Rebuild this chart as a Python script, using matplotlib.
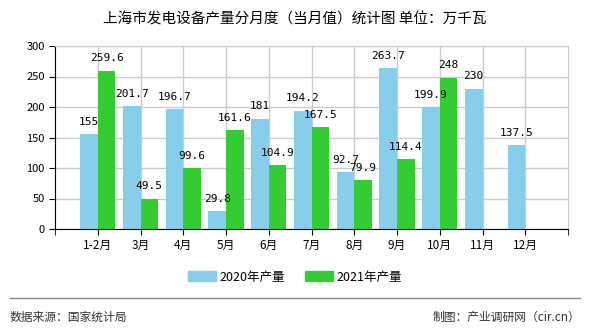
import matplotlib
matplotlib.use("Agg")
import matplotlib.pyplot as plt
import numpy as np

plt.rcParams['font.family'] = ['Noto Sans CJK SC', 'DejaVu Sans']

categories = ['1-2月', '3月', '4月', '5月', '6月', '7月', '8月', '9月', '10月', '11月', '12月']
v2020 = [155, 201.7, 196.7, 29.8, 181, 194.2, 92.7, 263.7, 199.9, 230, 137.5]
v2021 = [259.6, 49.5, 99.6, 161.6, 104.9, 167.5, 79.9, 114.4, 248, None, None]
yticks = [0, 50, 100, 150, 200, 250, 300]

fig = plt.figure(figsize=(5.9, 3.3), dpi=100)
ax = fig.add_axes([55/590, 1-229/330, (568-55)/590, (229-46)/330])

x = np.arange(1, len(categories) + 1)
w = 0.41
c20 = '#87CEEB'
c21 = '#33CC33'
for i, v in enumerate(v2020):
    ax.bar(x[i] - w/2, v, w, color=c20, zorder=2)
    ax.text(x[i] - w/2, v + 12, f'{v:g}', ha='center', va='bottom', fontsize=8,
            family=['DejaVu Sans Mono'], zorder=3)
for i, v in enumerate(v2021):
    if v is None:
        continue
    ax.bar(x[i] + w/2, v, w, color=c21, zorder=2)
    ax.text(x[i] + w/2, v + 12, f'{v:g}', ha='center', va='bottom', fontsize=8,
            family=['DejaVu Sans Mono'], zorder=3)

ax.set_xlim(0, 12)
ax.set_ylim(0, 300)
ax.set_yticks(yticks)
ax.set_xticks(list(x))
ax.set_xticklabels(categories, fontsize=8.5)
ax.set_xticks([0, 12], minor=True)
ax.tick_params(axis='y', labelsize=8, length=4, color='black')
ax.tick_params(axis='x', which='both', length=4, color='black', direction='out')
ax.grid(True, color='#CCCCCC', linewidth=1, zorder=0)
for s in ['top', 'right']:
    ax.spines[s].set_color('#CCCCCC')
ax.spines['left'].set_color('black')
ax.spines['bottom'].set_color('black')

fig.text(0.5, 1-19/330, '上海市发电设备产量分月度（当月值）统计图 单位：万千瓦', ha='center', va='center',
         fontsize=10.5, fontweight='medium')

from matplotlib.patches import Patch
handles = [Patch(color=c20, label='2020年产量'), Patch(color=c21, label='2021年产量')]
fig.legend(handles=handles, loc='center', bbox_to_anchor=(0.5, 1-277/330), ncol=2, frameon=False,
           fontsize=9, handlelength=2.2, handleheight=0.8, columnspacing=1.6, handletextpad=0.3)

fig.add_artist(plt.Line2D([10/590, 580/590], [1-298/330, 1-298/330], color='#888888', linewidth=1))
fig.text(10/590, 1-317/330, '数据来源：国家统计局', ha='left', va='center', fontsize=8.5, color='#333333')
fig.text(580/590, 1-317/330, '制图：产业调研网（cir.cn）', ha='right', va='center', fontsize=8.5, color='#333333')

fig.savefig('out.png', dpi=100, facecolor='white')
